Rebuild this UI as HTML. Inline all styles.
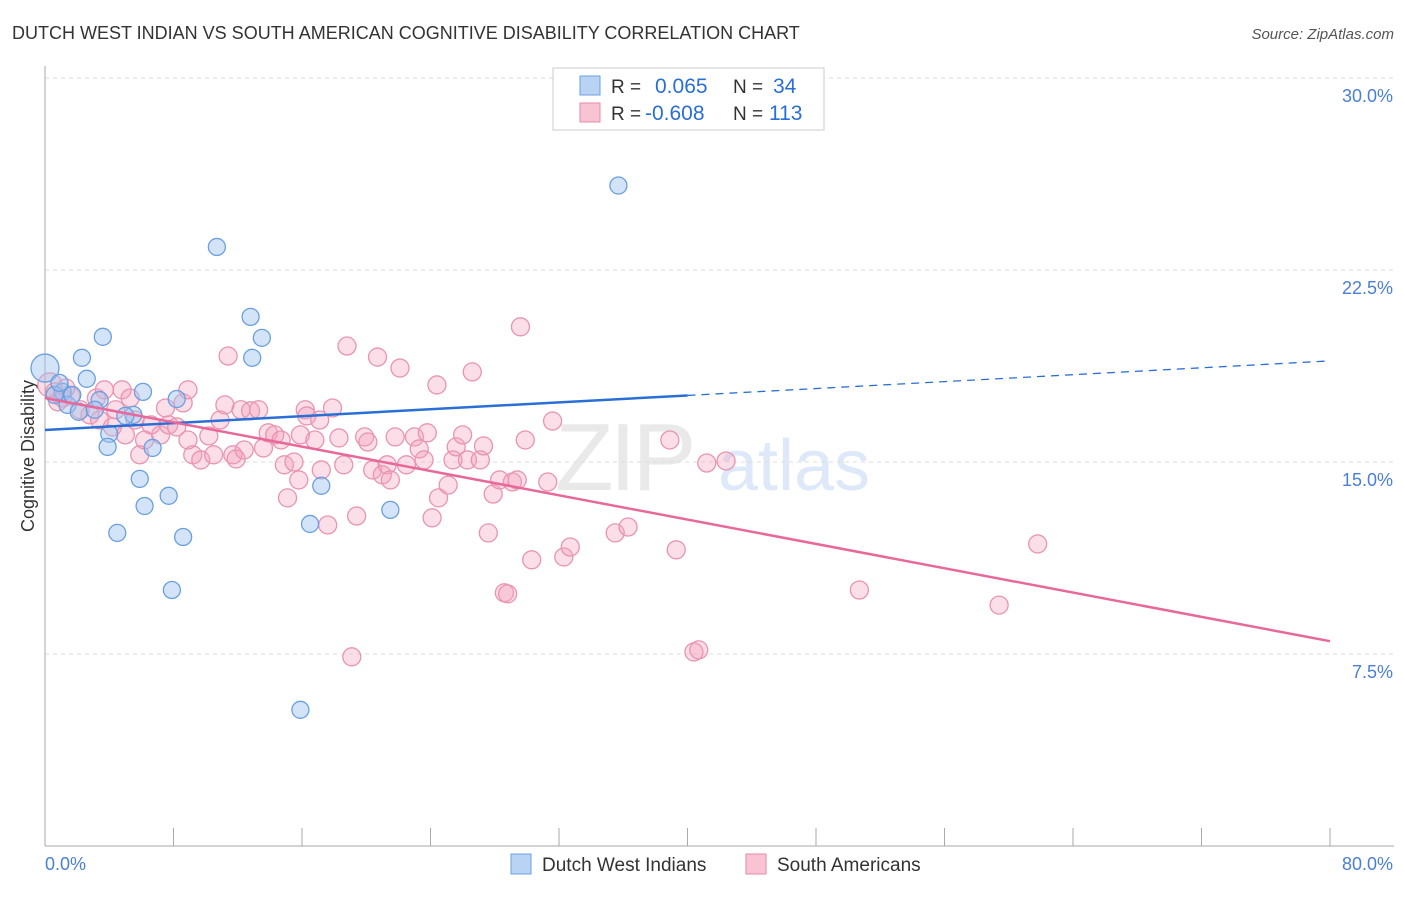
<!DOCTYPE html>
<html><head><meta charset="utf-8"><style>
body{margin:0;background:#fff;font-family:"Liberation Sans",sans-serif}
svg text{font-family:"Liberation Sans",sans-serif}
</style></head><body>
<svg id="chart" width="1406" height="892" xmlns="http://www.w3.org/2000/svg">
<text x="12" y="39" font-size="18" fill="#333">DUTCH WEST INDIAN VS SOUTH AMERICAN COGNITIVE DISABILITY CORRELATION CHART</text>
<text x="1394" y="39" font-size="15" fill="#555" text-anchor="end" font-style="italic">Source: ZipAtlas.com</text>
<g opacity="0.18">
<text x="555" y="490" font-size="96" fill="#888" font-family="Liberation Serif" letter-spacing="-4">ZIP</text>
<text x="718" y="490" font-size="72" fill="#4a86e0">atlas</text>
</g>
<g id="grid"></g>
<g id="axes"></g>
<text transform="translate(34,456) rotate(-90)" font-size="18" fill="#333" text-anchor="middle">Cognitive Disability</text>
<g id="points"></g>
<g id="trends"></g>
<g>
<rect x="553" y="68" width="271" height="62" fill="#fff" stroke="#ccc"/>
<rect x="580" y="76" width="20" height="19" fill="#b9d3f5" stroke="#6a9fe0"/>
<rect x="580" y="103" width="20" height="19" fill="#f8c3d3" stroke="#e88aa8"/>
<text x="611" y="93" font-size="19" fill="#333">R = </text><text x="655" y="93" font-size="21" fill="#2a6fd6">0.065</text>
<text x="733" y="93" font-size="19" fill="#333">N = </text><text x="773" y="93" font-size="21" fill="#2a6fd6">34</text>
<text x="611" y="120" font-size="19" fill="#333">R = </text><text x="645" y="120" font-size="21" fill="#2a6fd6">-0.608</text>
<text x="733" y="120" font-size="19" fill="#333">N = </text><text x="769" y="120" font-size="21" fill="#2a6fd6">113</text>
</g>
<g>
<rect x="511" y="854" width="20" height="20" fill="#b9d3f5" stroke="#6a9fe0"/>
<text x="542" y="871" font-size="19" fill="#333">Dutch West Indians</text>
<rect x="746" y="854" width="20" height="20" fill="#f8c3d3" stroke="#e88aa8"/>
<text x="777" y="871" font-size="19" fill="#333">South Americans</text>
</g>
</svg>
<script>
const xTicks=[0,8,16,24,32,40,48,56,64,72,80];
const yTicks=[7.5,15,22.5,30];
const yTickLabels=["7.5%","15.0%","22.5%","30.0%"];
const xEndLabels=["0.0%","80.0%"];
const blueX=[0,2.3,3.6,2.6,6.1,3.4,1.1,1.4,2.1,5.5,4.0,3.9,6.7,5.9,6.2,7.7,4.5,8.6,7.9,10.7,12.8,13.5,12.9,8.2,17.2,16.5,21.5,15.9,35.7,0.6,1.7,5.0,3.1,0.9];
const blueY=[18.67,19.07,19.89,18.25,17.74,17.42,17.74,17.23,16.96,16.84,16.10,15.59,15.55,14.34,13.28,13.68,12.23,12.07,10.0,23.4,20.67,19.85,19.07,17.46,14.07,12.58,13.13,5.32,25.8,17.62,17.62,16.80,17.04,18.09];
const pinkX=[0.3,0.6,1.1,1.6,0.8,2.2,2.8,3.4,4.4,4.8,5.6,5.9,6.2,7.2,7.5,7.7,8.2,8.6,8.9,9.2,9.7,10.2,10.5,10.9,11.2,11.4,11.7,11.9,12.2,12.4,12.8,13.3,13.6,13.9,14.3,14.7,14.9,15.1,15.5,15.8,15.9,16.2,16.3,16.8,17.1,17.2,17.6,17.9,18.3,18.6,18.8,19.1,19.4,19.9,20.1,20.4,20.7,21.0,21.3,21.5,21.8,22.1,22.5,23.0,23.3,23.6,23.8,24.1,24.4,24.5,25.1,25.4,25.6,26.0,26.3,26.6,27.1,27.3,27.6,27.9,28.3,28.6,28.8,29.1,29.4,29.6,29.9,30.3,31.3,31.6,32.3,32.7,35.5,36.3,38.9,39.3,40.4,40.7,41.2,42.4,50.7,59.4,61.8,4.2,5.0,6.6,3.2,1.3,3.7,5.3,8.9];
const pinkY=[18.01,17.74,17.50,17.58,17.35,17.04,16.84,16.64,17.04,17.82,16.64,15.28,15.86,16.06,17.11,16.45,16.37,17.31,17.82,15.28,15.08,16.02,15.28,16.64,17.23,19.14,15.28,15.12,17.04,15.47,17.00,17.04,15.55,16.14,16.06,15.86,14.89,13.60,15.0,14.3,16.06,17.04,16.80,15.86,16.64,14.69,12.54,17.11,15.94,14.89,19.53,7.39,12.89,15.98,15.78,14.69,19.10,14.50,14.89,14.30,15.98,18.67,14.89,15.98,15.51,15.08,16.14,12.82,18.01,13.60,14.10,15.08,15.59,16.06,15.08,18.52,15.08,15.63,12.23,13.75,14.30,9.89,9.85,14.22,14.30,20.28,15.86,11.18,14.22,16.60,11.29,11.68,12.23,12.46,15.86,11.57,7.58,7.66,14.96,15.04,10.0,9.41,11.80,16.37,16.06,16.45,17.50,17.89,17.82,17.50,15.86];
const blueTrend=[16.25,18.95];
const pinkTrend=[17.5,8.0];
const blueSolidEnd=40;

const NS="http://www.w3.org/2000/svg";
const X=v=>45+v*(1285/80);
const Y=v=>654-(v-7.5)*25.6;
function mk(tag,attrs,parent){const e=document.createElementNS(NS,tag);for(const k in attrs)e.setAttribute(k,attrs[k]);parent.appendChild(e);return e;}
const grid=document.getElementById('grid'),axes=document.getElementById('axes'),pts=document.getElementById('points'),tr=document.getElementById('trends');
yTicks.forEach((t,i)=>{
  const l=mk('line',{x1:45,x2:1394,y1:Y(t),y2:Y(t),stroke:'#ddd','stroke-dasharray':'4,4'},grid);
  
  
  const tx=mk('text',{x:1393,y:Y(t)+24,'font-size':18,fill:'#4a7fd4','text-anchor':'end'},axes);
  tx.textContent=yTickLabels[i];
  
  
});
const ya=mk('line',{x1:45,x2:45,y1:66,y2:846,stroke:'#aaa'},axes);


const xa=mk('line',{x1:45,x2:1394,y1:846,y2:846,stroke:'#aaa'},axes);


xTicks.forEach(t=>{
  const l=mk('line',{x1:X(t),x2:X(t),y1:828,y2:846,stroke:'#aaa'},axes);
  
  
});
const xl0=mk('text',{x:45,y:870,'font-size':18,fill:'#4a7fd4'},axes);xl0.textContent=xEndLabels[0];


const xl1=mk('text',{x:1393,y:870,'font-size':18,fill:'#4a7fd4','text-anchor':'end'},axes);xl1.textContent=xEndLabels[1];


pinkX.forEach((x,i)=>{
  const c=mk('circle',{cx:X(x),cy:Y(pinkY[i]),r:i===0?12:9,fill:'rgba(243,160,188,0.35)',stroke:'#e994b0','stroke-width':1.3},pts);
  
  
});
blueX.forEach((x,i)=>{
  const c=mk('circle',{cx:X(x),cy:Y(blueY[i]),r:i===0?14:8.5,fill:'rgba(160,195,240,0.45)',stroke:'#6a9fe0','stroke-width':1.3},pts);
  
  
});
const bAt=v=>blueTrend[0]+(blueTrend[1]-blueTrend[0])*v/80;
const b1=mk('line',{x1:X(0),y1:Y(bAt(0)),x2:X(blueSolidEnd),y2:Y(bAt(blueSolidEnd)),stroke:'#2a6fd6','stroke-width':2.5},tr);


const b2=mk('line',{x1:X(blueSolidEnd),y1:Y(bAt(blueSolidEnd)),x2:X(80),y2:Y(bAt(80)),stroke:'#2a6fd6','stroke-width':1.3,'stroke-dasharray':'8,6'},tr);


const p1=mk('line',{x1:X(0),y1:Y(pinkTrend[0]),x2:X(80),y2:Y(pinkTrend[1]),stroke:'#e8689a','stroke-width':2.5},tr);


</script>
</body></html>
